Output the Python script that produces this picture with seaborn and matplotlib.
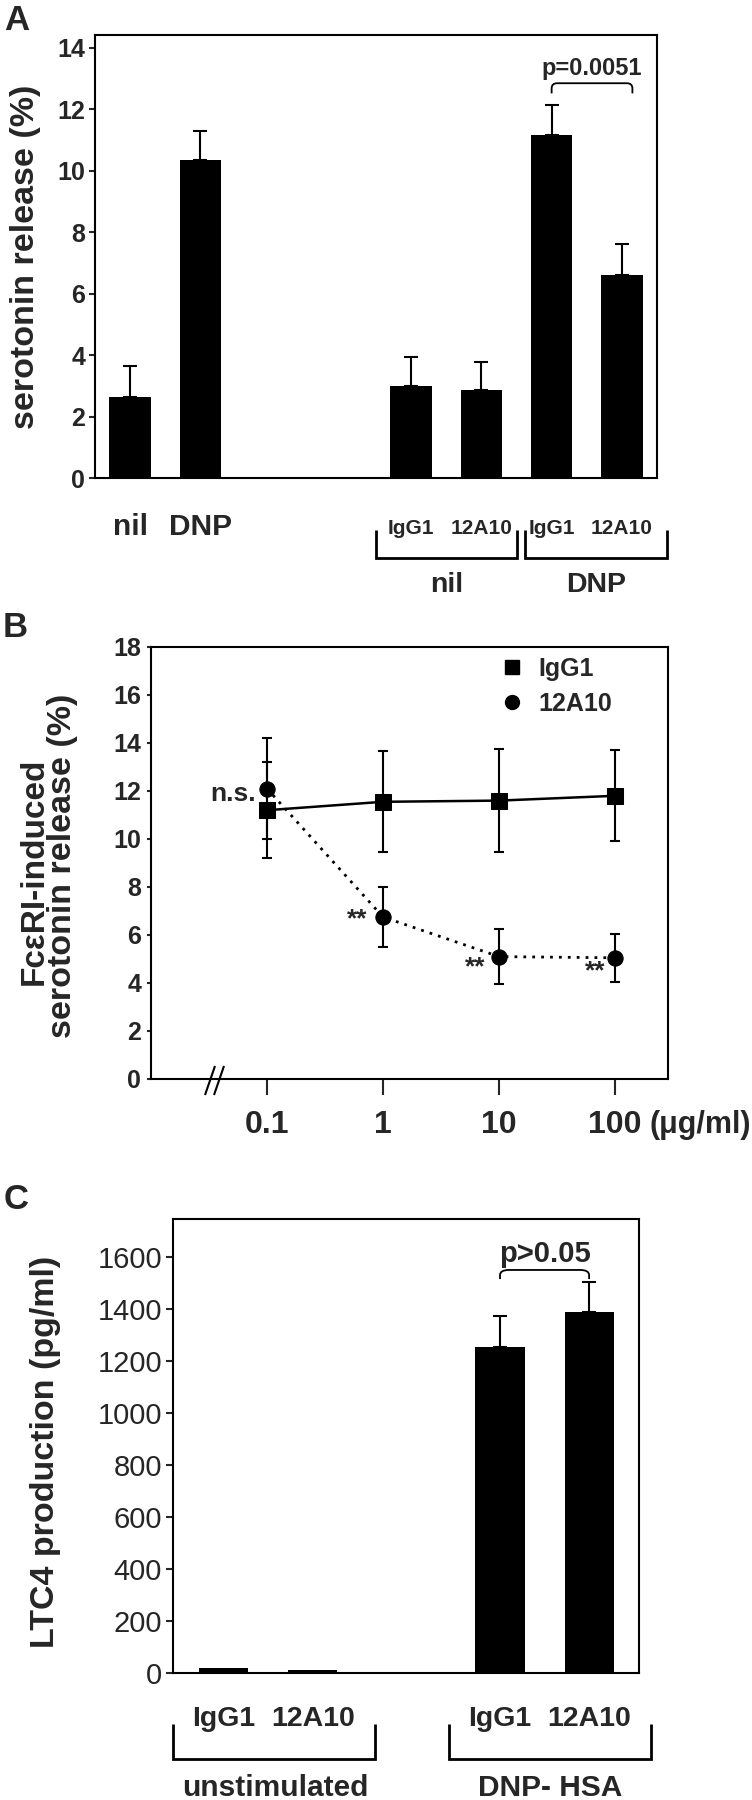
import numpy as np
import pandas as pd
import matplotlib
matplotlib.use("Agg")
import matplotlib.pyplot as plt
import matplotlib.transforms as mtransforms
from matplotlib.lines import Line2D
from matplotlib.path import Path
from matplotlib.patches import PathPatch
from matplotlib.ticker import NullLocator
import seaborn as sns

# ---------------- data ----------------
# Panel A
a_labels = ["nil", "DNP", "IgG1", "12A10", "IgG1", "12A10"]
a_values = [2.65, 10.35, 3.0, 2.85, 11.15, 6.6]
a_errors = [1.0, 0.95, 0.95, 0.92, 0.98, 1.02]
a_groups = ["nil", "DNP"]
a_yticks = [0, 2, 4, 6, 8, 10, 12, 14]
a_pvalue = "p=0.0051"

# Panel B
b_conc = [0.1, 1, 10, 100]
b_conc_labels = ["0.1", "1", "10", "100"]
b_igg1 = [11.2, 11.55, 11.6, 11.8]
b_igg1_err = [2.0, 2.1, 2.15, 1.9]
b_12a10 = [12.1, 6.75, 5.1, 5.05]
b_12a10_err = [2.1, 1.25, 1.15, 1.0]
b_marks = ["n.s.", "**", "**", "**"]
b_series = ["IgG1", "12A10"]
b_yticks = [0, 2, 4, 6, 8, 10, 12, 14, 16, 18]

# Panel C
c_labels = ["IgG1", "12A10", "IgG1", "12A10"]
c_values = [20, 13, 1253, 1390]
c_errors = [0, 0, 121, 112]
c_groups = ["unstimulated", "DNP- HSA"]
c_yticks = [0, 200, 400, 600, 800, 1000, 1200, 1400, 1600]
c_pvalue = "p>0.05"

# ---------------- layout ----------------
a_pos = [0, 1, 4, 5, 6, 7]
c_pos = [0, 1, 3.1, 4.1]

W, H = 752, 1800
sns.set_style("ticks")
plt.rcParams["font.family"] = ["Liberation Sans", "DejaVu Sans"]
plt.rcParams["font.weight"] = "bold"
plt.rcParams["axes.linewidth"] = 1.5

fig = plt.figure(figsize=(W / 100, H / 100), dpi=100)
fig.patch.set_facecolor("white")


def rect(l, t, r, b):
    return [l / W, 1 - b / H, (r - l) / W, (b - t) / H]


def fx(x):
    return x / W


def fy(y):
    return 1 - y / H


def fig_line(xs, ys, lw=2.0):
    fig.add_artist(Line2D([fx(x) for x in xs], [fy(y) for y in ys],
                          transform=fig.transFigure, color="black", lw=lw,
                          solid_capstyle="butt", solid_joinstyle="miter"))


def style_box(ax):
    for s in ax.spines.values():
        s.set_visible(True)
        s.set_linewidth(1.5)
        s.set_color("black")
    ax.set_facecolor("white")


def round_bracket(ax, x1, x2, ylo, yhi, rx, ry, lw=1.3):
    verts = [(x1, ylo), (x1, yhi - ry), (x1, yhi), (x1 + rx, yhi),
             (x2 - rx, yhi), (x2, yhi), (x2, yhi - ry), (x2, ylo)]
    codes = [Path.MOVETO, Path.LINETO, Path.CURVE3, Path.CURVE3,
             Path.LINETO, Path.CURVE3, Path.CURVE3, Path.LINETO]
    ax.add_patch(PathPatch(Path(verts, codes), fill=False, lw=lw,
                           edgecolor="black", clip_on=False))


# ================= Panel A =================
axA = fig.add_axes(rect(95, 35, 657, 478))
dfA = pd.DataFrame({"pos": a_pos, "value": a_values})
sns.barplot(data=dfA, x="pos", y="value", native_scale=True, width=0.59,
            color="black", saturation=1, errorbar=None, linewidth=0,
            orient="x", ax=axA)
axA.errorbar(a_pos, a_values, yerr=[np.zeros(len(a_errors)), a_errors],
             fmt="none", ecolor="black", elinewidth=1.5, capsize=4.7, capthick=1.5)
axA.set_yticks(a_yticks)
axA.set_yticklabels([str(v) for v in a_yticks], fontsize=18, fontweight="bold")
axA.set_xticks([])
axA.tick_params(axis="y", direction="out", length=4, width=1.5, pad=3)
axA.set_xlabel("")
axA.set_ylabel("")
style_box(axA)

transA = mtransforms.blended_transform_factory(axA.transData, fig.transFigure)
for i, (p, lab) in enumerate(zip(a_pos, a_labels)):
    if i < 2:
        axA.text(p, fy(527), lab, transform=transA, ha="center", va="center",
                 fontsize=21.5, fontweight="bold")
    else:
        axA.text(p, fy(529), lab, transform=transA, ha="center", va="center",
                 fontsize=15, fontweight="bold")
fig_line([376, 376, 517, 517], [530, 558, 558, 530])
fig_line([525, 525, 667, 667], [530, 558, 558, 530])
fig.text(fx(447), fy(585), a_groups[0], ha="center", va="center", fontsize=20.5, fontweight="bold")
fig.text(fx(596), fy(585), a_groups[1], ha="center", va="center", fontsize=20.5, fontweight="bold")
x1, x2 = a_pos[4], a_pos[5] + 0.15
round_bracket(axA, x1, x2, 12.52, 12.85, 0.08, 0.17)
axA.text((x1 + x2) / 2, 13.33, a_pvalue, ha="center", va="center",
         fontsize=17, fontweight="bold")
axA.set_xlim(-0.5, 7.5)
axA.set_ylim(0, 14.42)

fig.text(fx(26), fy(257), "serotonin release (%)", rotation=90, ha="center",
         va="center", fontsize=24.5, fontweight="bold")
fig.text(fx(4), fy(4), "A", ha="left", va="top", fontsize=25, fontweight="bold")

# ================= Panel B =================
axB = fig.add_axes(rect(151, 647, 668, 1079))
axB.errorbar(b_conc, b_igg1, yerr=b_igg1_err, fmt="none", ecolor="black",
             elinewidth=1.5, capsize=3.8, capthick=1.5)
axB.errorbar(b_conc, b_12a10, yerr=b_12a10_err, fmt="none", ecolor="black",
             elinewidth=1.5, capsize=3.8, capthick=1.5)
sns.lineplot(x=b_conc, y=b_igg1, ax=axB, color="black", marker="s",
             markersize=11, markeredgecolor="black", linewidth=1.8)
sns.lineplot(x=b_conc, y=b_12a10, ax=axB, color="black", marker="o",
             markersize=11, markeredgecolor="black", linewidth=2.0,
             linestyle=(0, (1, 2.2)))
axB.set_xscale("log")
axB.set_xticks(b_conc)
axB.set_xticklabels(b_conc_labels, fontsize=23, fontweight="bold")
axB.xaxis.set_minor_locator(NullLocator())
axB.set_yticks(b_yticks)
axB.set_yticklabels([str(v) for v in b_yticks], fontsize=18, fontweight="bold")
axB.tick_params(axis="x", direction="out", length=11.5, width=1.5, pad=11)
axB.tick_params(axis="y", direction="out", length=3, width=1.5, pad=4)
axB.set_xlabel("")
axB.set_ylabel("")
axB.set_xlim(0.01, 286)
axB.set_ylim(0, 18)
style_box(axB)

b_offsets = [(-8.0, -4.0, "right"), (-18.7, -2.0, "center"),
             (-17.0, -8.0, "center"), (-14.4, -10.0, "center")]
for c, v, m, (dx, dy, ha) in zip(b_conc, b_12a10, b_marks, b_offsets):
    axB.annotate(m, xy=(c, v), xytext=(dx, dy), textcoords="offset points",
                 ha=ha, va="center", fontsize=19, fontweight="bold")

handles = [Line2D([], [], marker="s", color="black", linestyle="none", markersize=10),
           Line2D([], [], marker="o", color="black", linestyle="none", markersize=10)]
axB.legend(handles, b_series, loc="upper left", bbox_to_anchor=(0.674, 0.978),
           frameon=False, handlelength=1.0, handletextpad=0.55, labelspacing=0.45,
           borderaxespad=0, borderpad=0, prop={"size": 18, "weight": "bold"})

fig.text(fx(751), fy(1125), "(\u03bcg/ml)", ha="right", va="center",
         fontsize=22, fontweight="bold")
fig_line([205, 215], [1095, 1066], lw=1.5)
fig_line([214, 224], [1095, 1066], lw=1.5)
fig.text(fx(34), fy(871), "Fc\u03b5RI-induced", rotation=90, ha="center",
         va="center", fontsize=24, fontweight="bold")
fig.text(fx(63), fy(866), "serotonin release (%)", rotation=90, ha="center",
         va="center", fontsize=24.5, fontweight="bold")
fig.text(fx(3), fy(611), "B", ha="left", va="top", fontsize=25, fontweight="bold")

# ================= Panel C =================
axC = fig.add_axes(rect(173, 1219, 639, 1673))
dfC = pd.DataFrame({"pos": c_pos, "value": c_values})
sns.barplot(data=dfC, x="pos", y="value", native_scale=True, width=0.55,
            color="black", saturation=1, errorbar=None, linewidth=0,
            orient="x", ax=axC)
mask = [e > 0 for e in c_errors]
axC.errorbar([p for p, m in zip(c_pos, mask) if m],
             [v for v, m in zip(c_values, mask) if m],
             yerr=[[0] * sum(mask), [e for e, m in zip(c_errors, mask) if m]],
             fmt="none", ecolor="black", elinewidth=1.5, capsize=4.7, capthick=1.5)
axC.set_yticks(c_yticks)
axC.set_yticklabels([str(v) for v in c_yticks], fontsize=21, fontweight="normal")
axC.set_xticks([])
axC.tick_params(axis="y", direction="out", length=5, width=1.5, pad=3)
axC.set_xlabel("")
axC.set_ylabel("")
style_box(axC)

transC = mtransforms.blended_transform_factory(axC.transData, fig.transFigure)
for p, lab in zip(c_pos, c_labels):
    axC.text(p, fy(1719), lab, transform=transC, ha="center", va="center",
             fontsize=20.5, fontweight="bold")
fig_line([173, 173, 375, 375], [1724, 1759, 1759, 1724])
fig_line([449, 449, 651, 651], [1724, 1759, 1759, 1724])
fig.text(fx(275), fy(1788), c_groups[0], ha="center", va="center", fontsize=21.5, fontweight="bold")
fig.text(fx(550), fy(1788), c_groups[1], ha="center", va="center", fontsize=21.5, fontweight="bold")

x1, x2 = c_pos[2], c_pos[3]
round_bracket(axC, x1, x2, 1515, 1550, 0.1, 20)
axC.text((x1 + x2) / 2, 1611, c_pvalue, ha="center", va="center",
         fontsize=21, fontweight="bold")
axC.set_xlim(-0.57, 4.66)
axC.set_ylim(0, 1746)

fig.text(fx(46), fy(1452), "LTC4 production (pg/ml)", rotation=90, ha="center",
         va="center", fontsize=24.5, fontweight="bold")
fig.text(fx(4), fy(1183), "C", ha="left", va="top", fontsize=25, fontweight="bold")

fig.savefig("out.png", dpi=100, facecolor="white")
